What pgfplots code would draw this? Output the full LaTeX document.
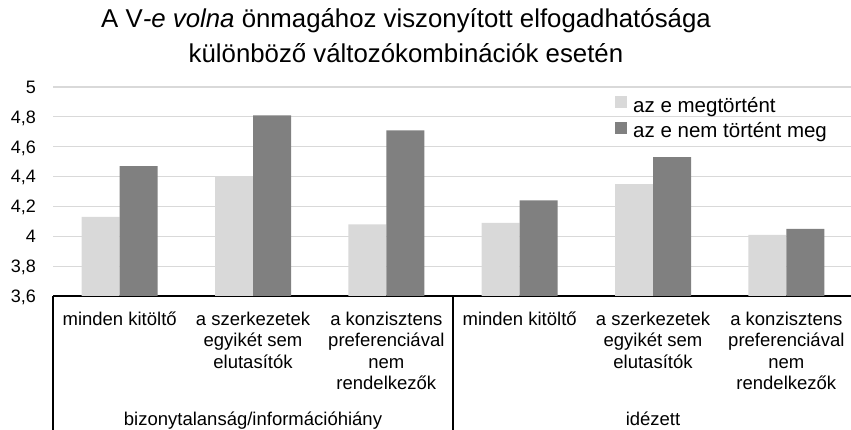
\documentclass[border=0pt]{standalone}
\usepackage{fontspec}
\setmainfont{Liberation Sans}
\usepackage{pgfplots}
\pgfplotsset{compat=1.18}
\definecolor{barlight}{HTML}{D9D9D9}
\definecolor{bardark}{HTML}{808080}
\definecolor{gridc}{HTML}{D9D9D9}
\begin{document}
\begin{tikzpicture}
\begin{axis}[
  scale only axis, width=800pt, height=209pt,
  at={(0pt,0pt)}, anchor=south west,
  xmin=-0.5, xmax=5.5, ymin=3.6, ymax=5,
  ybar=0pt, bar width=38pt,
  axis x line*=bottom, axis y line*=left,
  y axis line style={draw=none},
  x axis line style={black, line width=1.2pt},
  ymajorgrids, grid style={gridc, line width=1.2pt},
  major tick length=0pt,
  ytick={3.6,3.8,4,4.2,4.4,4.6,4.8,5},
  /pgf/number format/use comma,
  /pgf/number format/assume math mode=true,
  yticklabel style={anchor=base east, inner sep=0pt, xshift=-17pt, yshift=-6.3pt, font=\fontsize{18}{21}\selectfont},
  xtick={0,1,2,3,4,5},
  xticklabels={
    {\rule{0pt}{16pt}minden kitöltő},
    {\rule{0pt}{16pt}a szerkezetek\\egyikét sem\\elutasítók},
    {\rule{0pt}{16pt}a konzisztens\\preferenciával\\nem\\rendelkezők},
    {\rule{0pt}{16pt}minden kitöltő},
    {\rule{0pt}{16pt}a szerkezetek\\egyikét sem\\elutasítók},
    {\rule{0pt}{16pt}a konzisztens\\preferenciával\\nem\\rendelkezők}},
  xticklabel style={anchor=north, inner sep=0pt, align=center, yshift=-13pt, font=\fontsize{18.5}{21.5}\selectfont},
  legend style={at={(0.7025,0.957)}, anchor=north west, draw=none, fill=none, inner sep=0pt,
    font=\fontsize{20.5}{24}\selectfont,
    nodes={inner sep=0pt, text height=15pt, text depth=5pt},
    row sep=4.5pt,
    /tikz/every odd column/.append style={column sep=6pt}},
  legend cell align=left,
]
\addplot[fill=barlight, draw=none,
  legend image code/.code={\fill[barlight] (0pt,-1pt) rectangle (12pt,11pt);}]
  coordinates {(0,4.13) (1,4.40) (2,4.08) (3,4.09) (4,4.35) (5,4.01)};
\addplot[fill=bardark, draw=none,
  legend image code/.code={\fill[bardark] (0pt,-1pt) rectangle (12pt,11pt);}]
  coordinates {(0,4.47) (1,4.81) (2,4.71) (3,4.24) (4,4.53) (5,4.05)};
\legend{az e megtörtént, az e nem történt meg}
\coordinate (L0) at (axis cs:-0.5,3.6);
\coordinate (L1) at (axis cs:2.5,3.6);
\coordinate (G1) at (axis cs:1,3.6);
\coordinate (G2) at (axis cs:4,3.6);
\end{axis}
\draw[black, line width=1.2pt] (L0) -- ++(0pt,-140pt);
\draw[black, line width=1.2pt] (L1) -- ++(0pt,-140pt);
\node[anchor=base, inner sep=0pt, font=\fontsize{18.5}{21.5}\selectfont] at ([yshift=-130pt]G1) {bizonytalanság/információhiány};
\node[anchor=base, inner sep=0pt, font=\fontsize{18.5}{21.5}\selectfont] at ([yshift=-130pt]G2) {idézett};
\node[anchor=base, inner sep=0pt, font=\fontsize{25.8}{30}\selectfont] at (353pt,268pt) {A V\textit{-e volna} önmagához viszonyított elfogadhatósága};
\node[anchor=base, inner sep=0pt, font=\fontsize{25.8}{30}\selectfont] at (353pt,233.7pt) {különböző változókombinációk esetén};
\pgfresetboundingbox
\path[use as bounding box] (-53pt,-134pt) rectangle (798pt,296pt);
\end{tikzpicture}
\end{document}
